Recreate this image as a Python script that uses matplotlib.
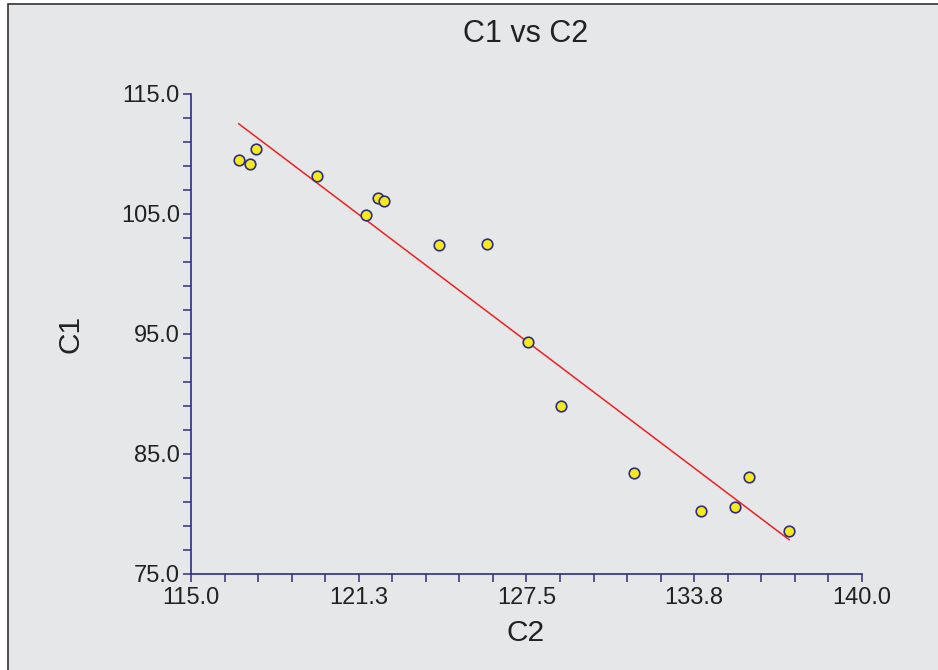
import numpy as np
import matplotlib
matplotlib.use("Agg")
import matplotlib.pyplot as plt
from matplotlib.patches import Rectangle

plt.rcParams['font.family'] = ['Liberation Sans', 'DejaVu Sans']

# Data
c2 = [116.78, 117.21, 117.43, 119.68, 121.51, 121.96, 122.19, 124.25,
      126.03, 127.54, 128.80, 131.51, 134.01, 135.27, 135.78, 137.29]
c1 = [109.48, 109.14, 110.42, 108.14, 104.89, 106.36, 106.11, 102.44,
      102.50, 94.33, 88.97, 83.39, 80.19, 80.56, 83.06, 78.53]

x_ticks = [115.0, 121.25, 127.5, 133.75, 140.0]
x_tick_labels = ["115.0", "121.3", "127.5", "133.8", "140.0"]
y_ticks = [75.0, 85.0, 95.0, 105.0, 115.0]
y_tick_labels = ["75.0", "85.0", "95.0", "105.0", "115.0"]
x_minor_step = 1.25
y_minor_step = 2.0

title = "C1 vs C2"
x_label = "C2"
y_label = "C1"

navy = "#2e2d7f"
panel = "#e6e7e9"

fig = plt.figure(figsize=(9.38, 6.70), dpi=100)
fig.patch.set_facecolor("white")
fig.add_artist(Rectangle((8 / 938, -0.05), 1.1, 1 - 4 / 670 + 0.05,
                         transform=fig.transFigure, facecolor=panel,
                         edgecolor="#333333", linewidth=1.2, zorder=0))

ax = fig.add_axes([191 / 938, 1 - 573.5 / 670, (862 - 191) / 938, (573.5 - 94) / 670])
ax.set_facecolor("none")

x = np.array(c2)
y = np.array(c1)
slope, intercept = np.polyfit(x, y, 1)
xl = np.array([x.min(), x.max()])
ax.plot(xl, intercept + slope * xl, color="#f02020", linewidth=1.1, zorder=2)
ax.scatter(x, y, s=58, facecolor="#f6ea1c", edgecolor=navy, linewidth=1.2, zorder=3)

ax.set_xlim(x_ticks[0], x_ticks[-1])
ax.set_ylim(y_ticks[0], y_ticks[-1])
ax.set_xticks(x_ticks)
ax.set_xticklabels(x_tick_labels)
ax.set_yticks(y_ticks)
ax.set_yticklabels(y_tick_labels)
ax.set_xticks(np.arange(x_ticks[0], x_ticks[-1] + 1e-9, x_minor_step), minor=True)
ax.set_yticks(np.arange(y_ticks[0], y_ticks[-1] + 1e-9, y_minor_step), minor=True)

for s in ["top", "right"]:
    ax.spines[s].set_visible(False)
for s in ["left", "bottom"]:
    ax.spines[s].set_color(navy)
    ax.spines[s].set_linewidth(1.2)

ax.tick_params(which="both", direction="out", length=6, width=1.1, color=navy,
               labelsize=17, labelcolor="#222222")
ax.tick_params(axis="x", which="major", pad=4)
ax.tick_params(axis="y", which="major", pad=2)

fig.text(526 / 938, 1 - 34 / 670, title, ha="center", va="center", fontsize=22, color="#222222")
fig.text(526 / 938, 1 - 633 / 670, x_label, ha="center", va="center", fontsize=21.5, color="#222222")
fig.text(70 / 938, 1 - 334 / 670, y_label, ha="center", va="center", rotation=90, fontsize=21.5, color="#222222")

fig.savefig("out.png", dpi=100, facecolor="white")
